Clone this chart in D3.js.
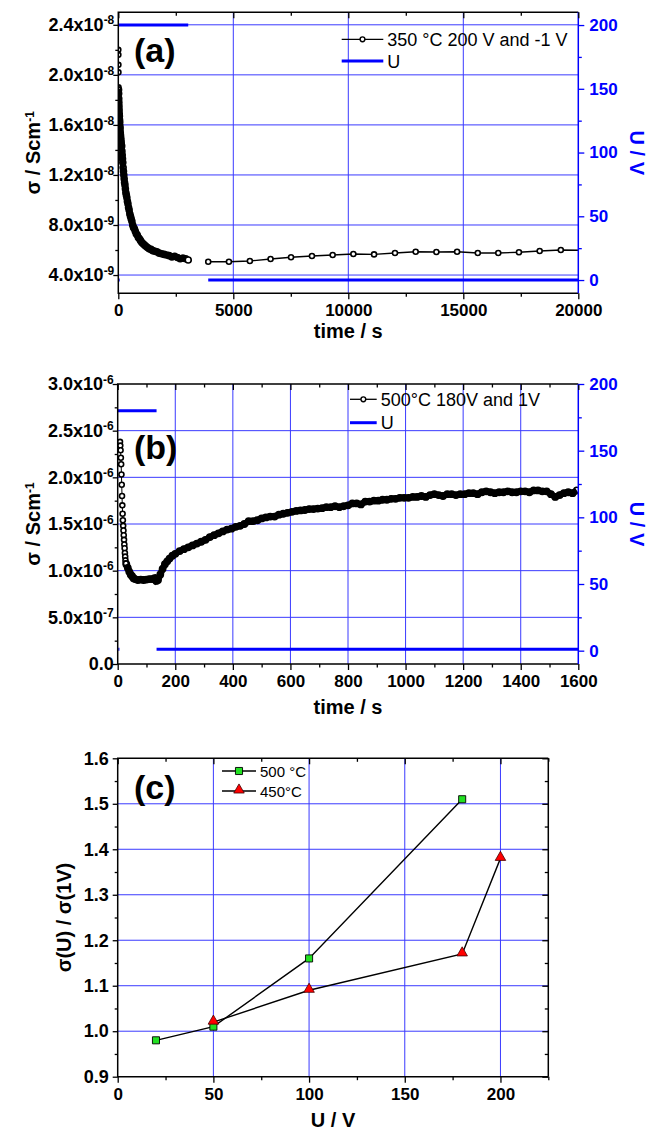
<!DOCTYPE html>
<html>
<head>
<meta charset="utf-8">
<style>
  body { margin: 0; background: #fff; }
  svg { display: block; font-family: "Liberation Sans", Arial, Helvetica, sans-serif; }
</style>
</head>
<body>
<div id="chart"></div>

<script src="https://cdnjs.cloudflare.com/ajax/libs/d3/7.8.5/d3.min.js"></script>
<script>
  // ---------- panel (a): 350 °C, 200 V then -1 V ----------
  // sigma values are in units of 1e-9 S/cm
  const aTime = [0, 2, 4, 6, 8, 12, 16, 20, 25, 30, 36, 42, 48, 55, 62, 70, 78, 86, 95, 104,
    114, 124, 135, 146, 158, 170, 183, 196, 210, 225, 240, 256, 272, 290, 308, 328, 350, 372,
    396, 420, 446, 472, 500, 530, 560, 592, 626, 662, 700, 740, 782, 826, 872, 920, 970, 1024,
    1080, 1140, 1200, 1270, 1340, 1420, 1500, 1590, 1680, 1780, 1880, 1990, 2100, 2210, 2330,
    2450, 2570, 2690, 2810, 2930, 3040];
  const aSigma = [22.0, 21.6, 20.8, 20.2, 19.0, 18.8, 18.5, 18.1, 17.8, 17.5, 17.2, 16.9, 16.7,
    16.4, 16.2, 15.9, 15.7, 15.4, 15.2, 15.0, 14.8, 14.6, 14.4, 14.3, 13.9, 13.6, 13.3, 13.0,
    12.6, 12.3, 12.0, 11.7, 11.4, 11.2, 10.9, 10.6, 10.4, 10.2, 9.9, 9.7, 9.4, 9.2, 8.9, 8.7,
    8.5, 8.3, 8.0, 7.8, 7.7, 7.5, 7.3, 7.2, 7.0, 6.9, 6.75, 6.6, 6.5, 6.4, 6.3, 6.2, 6.1, 6.05,
    5.95, 5.9, 5.85, 5.75, 5.7, 5.65, 5.6, 5.55, 5.45, 5.5, 5.4, 5.3, 5.35, 5.3, 5.2];
  const aTimeLow = [3910, 4810, 5720, 6620, 7510, 8420, 9320, 10220, 11120, 12030, 12930,
    13830, 14730, 15630, 16520, 17420, 18320, 19240, 20140];
  const aSigmaLow = [5.06, 5.06, 5.12, 5.28, 5.42, 5.52, 5.6, 5.68, 5.65, 5.76, 5.86, 5.84,
    5.86, 5.76, 5.76, 5.82, 5.92, 6.0, 5.98];
  const aUSegments = [[[0, 200], [3040, 200]], [[20, 0], [60, 0]], [[3910, 0], [20000, 0]]];
  const aLegend = ["350 °C 200 V and -1 V", "U"];

  // ---------- panel (b): 500 °C, 180 V then 1 V ----------
  // sigma values are in units of 1e-6 S/cm
  const bTime = [8, 9, 10, 11, 12, 13, 14, 15, 16, 17, 18, 19, 20, 21, 22, 23, 24, 25, 26, 27,
    28, 30, 35, 40, 45, 50, 55, 60, 70, 80, 90, 100, 110, 120, 128, 134, 140, 148, 156, 164,
    172, 180, 190, 200, 215, 230, 245, 260, 275, 290, 305, 320, 335, 350, 365, 380, 395, 410,
    425, 440, 455, 470, 485, 500, 515, 530, 545, 560, 575, 590, 605, 620, 635, 650, 665, 680,
    695, 710, 725, 740, 755, 770, 785, 800, 815, 830, 845, 860, 875, 890, 905, 920, 935, 950,
    965, 980, 995, 1010, 1025, 1040, 1055, 1070, 1085, 1100, 1115, 1130, 1145, 1160, 1175,
    1190, 1205, 1220, 1235, 1250, 1265, 1280, 1295, 1310, 1325, 1340, 1355, 1370, 1385, 1400,
    1415, 1430, 1445, 1460, 1475, 1490, 1505, 1520, 1535, 1550, 1565, 1580, 1595];
  const bSigma = [2.38, 2.34, 2.29, 2.21, 2.14, 2.03, 1.92, 1.80, 1.70, 1.61, 1.54, 1.48, 1.43,
    1.38, 1.33, 1.28, 1.24, 1.19, 1.15, 1.11, 1.08, 1.07, 1.03, 0.99, 0.96, 0.94, 0.92, 0.91,
    0.90, 0.905, 0.90, 0.905, 0.91, 0.91, 0.92, 0.89, 0.90, 0.96, 1.02, 1.07, 1.10, 1.13, 1.16,
    1.18, 1.21, 1.23, 1.25, 1.27, 1.29, 1.31, 1.33, 1.36, 1.38, 1.40, 1.42, 1.44, 1.45, 1.47,
    1.48, 1.50, 1.53, 1.53, 1.54, 1.56, 1.57, 1.58, 1.58, 1.60, 1.61, 1.62, 1.63, 1.64, 1.645,
    1.65, 1.66, 1.66, 1.665, 1.67, 1.68, 1.68, 1.69, 1.68, 1.69, 1.70, 1.72, 1.72, 1.71, 1.74,
    1.74, 1.75, 1.75, 1.76, 1.76, 1.77, 1.77, 1.78, 1.78, 1.78, 1.79, 1.79, 1.80, 1.79, 1.81,
    1.82, 1.81, 1.80, 1.82, 1.82, 1.81, 1.82, 1.82, 1.83, 1.83, 1.82, 1.84, 1.85, 1.84, 1.83,
    1.84, 1.84, 1.85, 1.84, 1.84, 1.85, 1.85, 1.84, 1.86, 1.86, 1.85, 1.85, 1.82, 1.79, 1.81,
    1.83, 1.84, 1.83, 1.86];
  const bUSegments = [[[0, 180], [135, 180]], [[2, 1], [6, 1]], [[135, 1], [1600, 1]]];
  const bLegend = ["500°C 180V and 1V", "U"];

  // ---------- panel (c): sigma(U)/sigma(1V) vs U ----------
  const c500U = [20, 50, 100, 180];
  const c500Ratio = [0.98, 1.01, 1.16, 1.51];
  const c450U = [50, 100, 180, 200];
  const c450Ratio = [1.02, 1.09, 1.17, 1.38];
  const cLegend = ["500 °C", "450°C"];

  // ---------- tick values ----------
  const aSigmaTicks = [4, 8, 12, 16, 20, 24];
  const aTimeTicks = [0, 5000, 10000, 15000, 20000];
  const aUTicks = [0, 50, 100, 150, 200];
  const bSigmaTicks = [0, 0.5, 1.0, 1.5, 2.0, 2.5, 3.0];
  const bTimeTicks = [0, 200, 400, 600, 800, 1000, 1200, 1400, 1600];
  const bUTicks = [0, 50, 100, 150, 200];
  const cRatioTicks = [0.9, 1.0, 1.1, 1.2, 1.3, 1.4, 1.5, 1.6];
  const cUTicks = [0, 50, 100, 150, 200];

  const blue = "#0000ff";
  const gridBlue = "#3a3aff";

  const svg = d3.select("#chart").append("svg")
    .attr("width", 660).attr("height", 1130);

  // label like 2.4x10^-8
  function sciLabel(sel, unitExp) {
    sel.attr("font-size", 18).each(function(d) {
      const t = d3.select(this);
      const v = d * Math.pow(10, unitExp);
      t.text(null);
      if (v === 0) { t.text("0.0"); return; }
      const e = Math.floor(Math.log10(v) + 1e-9);
      const m = v / Math.pow(10, e);
      t.append("tspan").text(m.toFixed(1) + "x10");
      t.append("tspan").attr("dy", "-0.55em").attr("font-size", 12).text(e);
    });
  }

  function addAxis(g, make, scale, major, minor, size, pad, tf, color, fmt) {
    const mg = g.append("g").attr("transform", tf)
      .call(make(scale).tickValues(minor).tickSize(size / 2 + (size > 0 ? 0.5 : -0.5)).tickFormat(""));
    const ag = g.append("g").attr("transform", tf)
      .call(make(scale).tickValues(major).tickSize(size).tickPadding(pad).tickFormat(fmt || ""));
    [mg, ag].forEach(s => {
      s.select(".domain").remove();
      s.selectAll("line").attr("stroke", color).attr("stroke-width", 1.3);
    });
    ag.attr("font-family", null).attr("font-size", null);
    ag.selectAll("text").attr("fill", color).attr("font-size", 17).attr("font-weight", "bold");
    return ag;
  }

  function frame(p) {
    const g = svg.append("g");
    const x = d3.scaleLinear().domain(p.xDomain).range([p.left, p.right]);
    const y = d3.scaleLinear().domain(p.yDomain).range([p.bottom, p.top]);

    // grid
    g.append("g").selectAll("line").data(p.xGrid).join("line")
      .attr("x1", d => x(d)).attr("x2", d => x(d))
      .attr("y1", p.top).attr("y2", p.bottom)
      .attr("stroke", gridBlue).attr("stroke-width", 1);
    g.append("g").selectAll("line").data(p.yGrid).join("line")
      .attr("x1", p.left).attr("x2", p.right)
      .attr("y1", d => y(d)).attr("y2", d => y(d))
      .attr("stroke", gridBlue).attr("stroke-width", 1);

    // clip for data
    g.append("clipPath").attr("id", p.id + "-clip")
      .append("rect").attr("x", p.left).attr("y", p.top)
      .attr("width", p.right - p.left).attr("height", p.bottom - p.top);
    const data = g.append("g").attr("clip-path", `url(#${p.id}-clip)`);
    return {g, x, y, data};
  }

  function borders(f, p, rightColor) {
    const b = f.g.append("g").attr("fill", "none").attr("stroke-width", 1.5);
    b.append("path").attr("stroke", "#000")
      .attr("d", `M${p.right},${p.top}H${p.left}V${p.bottom}H${p.right}`);
    b.append("line").attr("stroke", rightColor)
      .attr("x1", p.right).attr("x2", p.right).attr("y1", p.top).attr("y2", p.bottom);
  }

  // open circles; dense runs use no fill so overlapping symbols merge into a band
  function circles(sel, pts, x, y, fill, r) {
    sel.selectAll(null).data(pts).join("circle")
      .attr("cx", d => x(d[0])).attr("cy", d => y(d[1])).attr("r", r || 2.5)
      .attr("fill", fill).attr("stroke", "#000").attr("stroke-width", 1.6);
  }

  function uLines(f, segs, yU) {
    f.data.selectAll(null).data(segs).join("path")
      .attr("d", d3.line().x(d => f.x(d[0])).y(d => yU(d[1])))
      .attr("fill", "none").attr("stroke", blue).attr("stroke-width", 3);
  }

  function twinLegend(g, lx, ly, texts, gap) {
    g.append("line").attr("x1", lx[0]).attr("x2", lx[1]).attr("y1", ly).attr("y2", ly)
      .attr("stroke", "#000").attr("stroke-width", 1.3);
    g.append("circle").attr("cx", (lx[0] + lx[1]) / 2).attr("cy", ly).attr("r", 2.4)
      .attr("fill", "#fff").attr("stroke", "#000").attr("stroke-width", 1.4);
    g.append("line").attr("x1", lx[0]).attr("x2", lx[1]).attr("y1", ly + gap).attr("y2", ly + gap)
      .attr("stroke", blue).attr("stroke-width", 3);
    g.selectAll(null).data(texts).join("text")
      .attr("x", lx[1] + 4).attr("y", (d, i) => ly + i * gap + 6.5)
      .attr("font-size", 18).attr("fill", "#000").text(d => d);
  }

  function titles(g, p, xt, yt, xtY, ytX, rt) {
    g.append("text").attr("x", (p.left + p.right) / 2).attr("y", xtY)
      .attr("text-anchor", "middle").attr("font-size", 20).attr("font-weight", "bold").text(xt);
    const yl = g.append("text")
      .attr("transform", `translate(${ytX},${(p.top + p.bottom) / 2}) rotate(-90)`)
      .attr("text-anchor", "middle").attr("font-size", 20).attr("font-weight", "bold");
    yt(yl);
    if (rt) {
      g.append("text")
        .attr("transform", `translate(630,${(p.top + p.bottom) / 2}) rotate(90)`)
        .attr("text-anchor", "middle").attr("font-size", 20).attr("font-weight", "bold")
        .attr("fill", blue).text(rt);
    }
  }

  function sigmaTitle(t) {
    t.append("tspan").text("σ / Scm");
    t.append("tspan").attr("dy", "-0.5em").attr("font-size", 12).text("-1");
  }

  // ================= panel (a) =================
  const pa = {id: "a", left: 118.3, right: 578.3, top: 12.3, bottom: 293.3,
    xDomain: [0, 20000], yDomain: [2.54, 25.0],
    xGrid: [5000, 10000, 15000], yGrid: aSigmaTicks};
  const fa = frame(pa);
  const yUa = d3.scaleLinear().domain([-10.4, 210]).range([pa.bottom, pa.top]);

  const aDense = aTime.map((t, i) => [t, aSigma[i]]);
  const aLow = aTimeLow.map((t, i) => [t, aSigmaLow[i]]);
  const lineA = d3.line().x(d => fa.x(d[0])).y(d => fa.y(d[1]));
  fa.data.append("path").attr("d", lineA(aDense.slice(4))).attr("fill", "none")
    .attr("stroke", "#000").attr("stroke-width", 5.5);
  fa.data.append("path").attr("d", lineA(aDense.slice(0, 5))).attr("fill", "none")
    .attr("stroke", "#000").attr("stroke-width", 1);
  fa.data.append("path").attr("d", lineA(aLow)).attr("fill", "none")
    .attr("stroke", "#000").attr("stroke-width", 1.3);
  circles(fa.data, aDense.slice(0, 5), fa.x, fa.y, "#fff");
  circles(fa.data, aDense.slice(5, -1), fa.x, fa.y, "none", 3);
  circles(fa.data, aDense.slice(-1), fa.x, fa.y, "#fff", 3);
  circles(fa.data, aLow, fa.x, fa.y, "#fff");
  uLines(fa, aUSegments, yUa);

  borders(fa, pa, blue);
  addAxis(fa.g, d3.axisLeft, fa.y, aSigmaTicks, [6, 10, 14, 18, 22], 5, -1,
    `translate(${pa.left},0)`, "#000").selectAll("text").call(sciLabel, -9);
  addAxis(fa.g, d3.axisBottom, fa.x, aTimeTicks, [2500, 7500, 12500, 17500], 6, 5,
    `translate(0,${pa.bottom})`, "#000", d => d);
  addAxis(fa.g, d3.axisTop, fa.x, aTimeTicks, [2500, 7500, 12500, 17500], -6, 0,
    `translate(0,${pa.top})`, "#000");
  addAxis(fa.g, d3.axisRight, yUa, aUTicks, [25, 75, 125, 175], 6, 5,
    `translate(${pa.right},0)`, blue, d => d);

  twinLegend(fa.g, [341.7, 383.3], 39.3, aLegend, 21.7);
  fa.g.append("text").attr("x", 134).attr("y", 62).attr("font-size", 34)
    .attr("font-weight", "bold").text("(a)");
  titles(fa.g, pa, "time / s", sigmaTitle, 337.5, 40, "U / V");

  // ================= panel (b) =================
  const pb = {id: "b", left: 117.7, right: 578.3, top: 384, bottom: 664,
    xDomain: [0, 1600], yDomain: [0, 3.0],
    xGrid: [200, 400, 600, 800, 1000, 1200, 1400], yGrid: [0.5, 1.0, 1.5, 2.0, 2.5]};
  const fb = frame(pb);
  const yUb = d3.scaleLinear().domain([-10, 200]).range([pb.bottom, pb.top]);

  const bPts = bTime.map((t, i) => [t, bSigma[i]]);
  const lineB = d3.line().x(d => fb.x(d[0])).y(d => fb.y(d[1]));
  fb.data.append("path").attr("d", lineB(bPts.slice(21))).attr("fill", "none")
    .attr("stroke", "#000").attr("stroke-width", 6.5);
  fb.data.append("path").attr("d", lineB(bPts.slice(0, 22))).attr("fill", "none")
    .attr("stroke", "#000").attr("stroke-width", 1);
  circles(fb.data, bPts.slice(0, 21), fb.x, fb.y, "#fff");
  circles(fb.data, bPts.slice(21), fb.x, fb.y, "none", 3.1);
  uLines(fb, bUSegments, yUb);

  borders(fb, pb, blue);
  addAxis(fb.g, d3.axisLeft, fb.y, bSigmaTicks, [0.25, 0.75, 1.25, 1.75, 2.25, 2.75], 5, -1,
    `translate(${pb.left},0)`, "#000").selectAll("text").call(sciLabel, -6);
  addAxis(fb.g, d3.axisBottom, fb.x, bTimeTicks, [100, 300, 500, 700, 900, 1100, 1300, 1500], 6, 5,
    `translate(0,${pb.bottom})`, "#000", d => d);
  addAxis(fb.g, d3.axisTop, fb.x, bTimeTicks, [100, 300, 500, 700, 900, 1100, 1300, 1500], -6, 0,
    `translate(0,${pb.top})`, "#000");
  addAxis(fb.g, d3.axisRight, yUb, bUTicks, [25, 75, 125, 175], 6, 5,
    `translate(${pb.right},0)`, blue, d => d);

  twinLegend(fb.g, [350, 376.7], 399.3, bLegend, 23.4);
  fb.g.append("text").attr("x", 134).attr("y", 459).attr("font-size", 34)
    .attr("font-weight", "bold").text("(b)");
  titles(fb.g, pb, "time / s", sigmaTitle, 714, 40, "U / V");

  // ================= panel (c) =================
  const pc = {id: "c", left: 117.7, right: 548.3, top: 758.3, bottom: 1076.7,
    xDomain: [0, 225], yDomain: [0.9, 1.6],
    xGrid: [50, 100, 150, 200], yGrid: [1.0, 1.1, 1.2, 1.3, 1.4, 1.5]};
  const fc = frame(pc);
  const c500 = c500U.map((u, i) => [u, c500Ratio[i]]);
  const c450 = c450U.map((u, i) => [u, c450Ratio[i]]);
  const lineC = d3.line().x(d => fc.x(d[0])).y(d => fc.y(d[1]));
  [c500, c450].forEach(s => fc.data.append("path").attr("d", lineC(s))
    .attr("fill", "none").attr("stroke", "#000").attr("stroke-width", 1.4));

  const square = d3.symbol(d3.symbolSquare, 50);
  const tri = d3.symbol(d3.symbolTriangle, 48);
  function squares(sel, pts, x, y) {
    sel.selectAll(null).data(pts).join("path")
      .attr("transform", d => `translate(${x(d[0])},${y(d[1])})`).attr("d", square)
      .attr("fill", "#22e022").attr("stroke", "#000").attr("stroke-width", 0.9);
  }
  function triangles(sel, pts, x, y) {
    sel.selectAll(null).data(pts).join("path")
      .attr("transform", d => `translate(${x(d[0])},${y(d[1]) - 1})`).attr("d", tri)
      .attr("fill", "#ff0000").attr("stroke", "#400").attr("stroke-width", 0.8);
  }
  squares(fc.g, c500, fc.x, fc.y);
  triangles(fc.g, c450, fc.x, fc.y);

  borders(fc, pc, "#000");
  const cMinorY = [0.95, 1.05, 1.15, 1.25, 1.35, 1.45, 1.55];
  const cMinorX = [25, 75, 125, 175, 225];
  addAxis(fc.g, d3.axisLeft, fc.y, cRatioTicks, cMinorY, 5, 4,
    `translate(${pc.left},0)`, "#000", d3.format(".1f")).selectAll("text").attr("font-size", 18);
  addAxis(fc.g, d3.axisBottom, fc.x, cUTicks, cMinorX, 6, 5,
    `translate(0,${pc.bottom})`, "#000", d => d);
  addAxis(fc.g, d3.axisTop, fc.x, cUTicks, cMinorX, -6, 0,
    `translate(0,${pc.top})`, "#000");
  addAxis(fc.g, d3.axisRight, fc.y, cRatioTicks, cMinorY, -6, 0,
    `translate(${pc.right},0)`, "#000");

  // legend (c)
  const lg = fc.g.append("g");
  [0, 1].forEach(i => lg.append("line").attr("x1", 222).attr("x2", 256)
    .attr("y1", 771 + i * 20).attr("y2", 771 + i * 20)
    .attr("stroke", "#000").attr("stroke-width", 1.3));
  squares(lg, [[0, 0]], () => 239, () => 771);
  triangles(lg, [[0, 0]], () => 239, () => 791);
  lg.selectAll("text").data(cLegend).join("text")
    .attr("x", 260).attr("y", (d, i) => 776.5 + i * 20)
    .attr("font-size", 15).text(d => d);

  fc.g.append("text").attr("x", 134).attr("y", 799).attr("font-size", 34)
    .attr("font-weight", "bold").text("(c)");
  titles(fc.g, pc, "U / V", t => t.text("σ(U) / σ(1V)"), 1127, 71, null);
</script>
</body>
</html>
